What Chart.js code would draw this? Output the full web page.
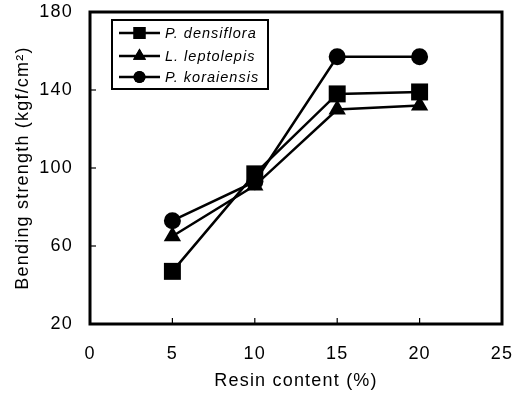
<!DOCTYPE html>
<html>
<head>
<meta charset="utf-8">
<script src="https://cdn.jsdelivr.net/npm/chart.js@4.4.0/dist/chart.umd.min.js"></script>
<style>
html,body{margin:0;padding:0;background:#fff;}
#wrap{width:515px;height:395px;}
</style>
</head>
<body>
<div id="wrap"><canvas id="c" width="515" height="395"></canvas></div>
<script>
const resin = [5, 10, 15, 20];
const densiflora = [47, 97, 138, 139];
const leptolepis = [65, 91, 130, 132];
const koraiensis = [73, 93, 157, 157];
const seriesNames = ['P. densiflora', 'L. leptolepis', 'P. koraiensis'];
const seriesStyles = ['rect', 'triangle', 'circle'];
const xTicks = [0, 5, 10, 15, 20, 25];
const yTicks = [20, 60, 100, 140, 180];

const FONT = '"Liberation Sans", Arial, Helvetica, sans-serif';
const radii = {rect: 12, triangle: 10, circle: 8.5};

function mk(vals, i) {
  return {
    label: seriesNames[i],
    data: resin.map((x, k) => ({x: x, y: vals[k]})),
    borderColor: '#000',
    backgroundColor: '#000',
    borderWidth: 2.5,
    pointStyle: seriesStyles[i],
    pointRadius: radii[seriesStyles[i]],
    pointBorderWidth: 0,
    tension: 0
  };
}

const framePlugin = {
  id: 'frame',
  beforeDraw(chart) {
    chart.ctx.letterSpacing = '1.2px';
  },
  afterDraw(chart) {
    const ctx = chart.ctx;
    const a = chart.chartArea;
    const xs = chart.scales.x, ys = chart.scales.y;
    ctx.save();
    ctx.strokeStyle = '#000';
    ctx.lineWidth = 1.2;
    xs.ticks.forEach(t => {
      if (t.value <= xs.min || t.value >= xs.max) return;
      const px = xs.getPixelForValue(t.value);
      ctx.beginPath(); ctx.moveTo(px, a.bottom); ctx.lineTo(px, a.bottom - 6); ctx.stroke();
    });
    ys.ticks.forEach(t => {
      if (t.value <= ys.min || t.value >= ys.max) return;
      const py = ys.getPixelForValue(t.value);
      ctx.beginPath(); ctx.moveTo(a.left, py); ctx.lineTo(a.left + 6, py); ctx.stroke();
    });
    ctx.lineWidth = 3;
    ctx.strokeRect(a.left, a.top, a.right - a.left, a.bottom - a.top);
    // legend
    const lx = 112, ly = 20, lw = 156, lh = 69;
    ctx.fillStyle = '#fff';
    ctx.fillRect(lx, ly, lw, lh);
    ctx.lineWidth = 2;
    ctx.strokeRect(lx, ly, lw, lh);
    const rows = [33, 56, 77];
    const lr = {rect: 8.5, triangle: 7.5, circle: 6};
    chart.data.datasets.forEach((ds, i) => {
      const y = rows[i];
      ctx.strokeStyle = '#000';
      ctx.lineWidth = 2.5;
      ctx.beginPath(); ctx.moveTo(119, y); ctx.lineTo(160, y); ctx.stroke();
      ctx.fillStyle = '#000';
      Chart.helpers.drawPoint(ctx, {pointStyle: ds.pointStyle, radius: lr[ds.pointStyle], rotation: 0, borderWidth: 0}, 139.5, y);
      ctx.fill();
      ctx.font = 'italic 14.5px ' + FONT;
      ctx.letterSpacing = '1px';
      ctx.textBaseline = 'middle';
      ctx.textAlign = 'left';
      ctx.fillText(ds.label, 165, y + 0.5);
    });
    ctx.restore();
    ctx.letterSpacing = '0px';
  }
};

new Chart(document.getElementById('c'), {
  type: 'line',
  data: {datasets: [mk(densiflora, 0), mk(leptolepis, 1), mk(koraiensis, 2)]},
  options: {
    responsive: false,
    animation: false,
    layout: {padding: {left: 0, right: 13, top: 12, bottom: 0}},
    plugins: {legend: {display: false}, tooltip: {enabled: false}},
    scales: {
      x: {
        type: 'linear', min: 0, max: 25,
        afterBuildTicks(s) { s.ticks = xTicks.map(v => ({value: v})); },
        afterFit(s) { s.height = 71; s.paddingLeft = 0; s.paddingRight = 0; },
        grid: {display: false, drawTicks: false},
        border: {display: false},
        ticks: {color: '#000', padding: 19, font: {family: FONT, size: 18}, maxRotation: 0},
        title: {display: true, text: 'Resin content (%)', color: '#000', font: {family: FONT, size: 18}, padding: {top: 0, bottom: 3}}
      },
      y: {
        type: 'linear', min: 20, max: 180,
        afterBuildTicks(s) { s.ticks = yTicks.map(v => ({value: v})); },
        afterFit(s) { s.width = 90; s.paddingTop = 0; s.paddingBottom = 0; },
        grid: {display: false, drawTicks: false},
        border: {display: false},
        ticks: {color: '#000', padding: 17, font: {family: FONT, size: 18}},
        title: {display: true, text: 'Bending strength (kgf/cm²)', color: '#000', font: {family: FONT, size: 18}, padding: {top: 12, bottom: 0}}
      }
    }
  },
  plugins: [framePlugin]
});
</script>
</body>
</html>
